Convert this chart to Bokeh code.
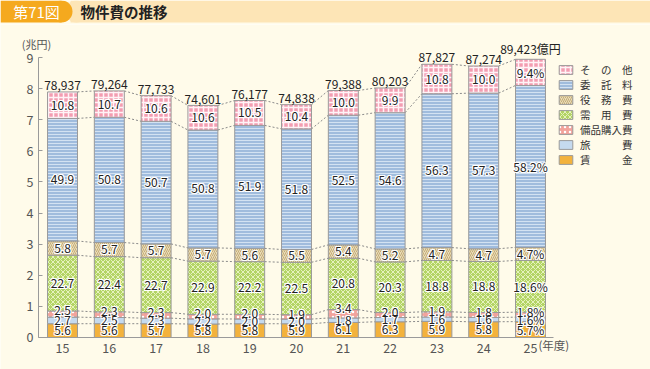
from bokeh.plotting import figure
from bokeh.models import ColumnDataSource, Legend, LegendItem, FixedTicker, Range1d
from bokeh.layouts import column
from bokeh.embed import file_html
from bokeh.resources import INLINE
from bokeh.core.properties import value

# ---------------- data ----------------
years = ["15", "16", "17", "18", "19", "20", "21", "22", "23", "24", "25"]
totals = [78937, 79264, 77733, 74601, 76177, 74838, 79388, 80203, 87827, 87274, 89423]  # 億円
wages = [5.6, 5.6, 5.7, 5.8, 5.8, 5.9, 6.1, 6.3, 5.9, 5.8, 5.7]          # 賃金 %
travel = [2.7, 2.5, 2.3, 2.2, 2.0, 2.0, 1.8, 1.7, 1.6, 1.6, 1.6]         # 旅費 %
equipment = [2.5, 2.3, 2.3, 2.0, 2.0, 1.9, 3.4, 2.0, 1.9, 1.8, 1.8]      # 備品購入費 %
supplies = [22.7, 22.4, 22.7, 22.9, 22.2, 22.5, 20.8, 20.3, 18.8, 18.8, 18.6]  # 需用費 %
services = [5.8, 5.7, 5.7, 5.7, 5.6, 5.5, 5.4, 5.2, 4.7, 4.7, 4.7]       # 役務費 %
contracts = [49.9, 50.8, 50.7, 50.8, 51.9, 51.8, 52.5, 54.6, 56.3, 57.3, 58.2]  # 委託料 %
others = [10.8, 10.7, 10.6, 10.6, 10.5, 10.4, 10.0, 9.9, 10.8, 10.0, 9.4]  # その他 %

series_names = ["賃　　　金", "旅　　　費", "備品購入費", "需　用　費", "役　務　費", "委　託　料", "そ　の　他"]
series_values = [wages, travel, equipment, supplies, services, contracts, others]

y_ticks = [0, 1, 2, 3, 4, 5, 6, 7, 8, 9]

# ---------------- style ----------------
BG = "#FFFBEA"
JP = "Noto Sans CJK JP"
LEG_FONT = "'Liberation Sans', 'Noto Sans CJK JP'"
styles = [
    dict(fill_color="#F3B23C"),
    dict(fill_color="#C5DAEF"),
    dict(fill_color="#F2A39C", hatch_pattern="dot", hatch_color="white", hatch_scale=5, hatch_weight=1.2),
    dict(fill_color="#B3D464", hatch_pattern="diagonal_cross", hatch_color="#E6F2BE", hatch_scale=5, hatch_weight=1),
    dict(fill_color="#EADDB8", hatch_pattern="right_diagonal_line", hatch_color="#C4AC78", hatch_scale=4, hatch_weight=1),
    dict(fill_color="#A0BCDD", hatch_pattern="horizontal_line", hatch_color="#D3E2F2", hatch_scale=3, hatch_weight=1),
    dict(fill_color="#F39DB1", hatch_pattern="cross", hatch_color="#FFF3F6", hatch_scale=5, hatch_weight=1.5),
]
# where a segment's label sits within the segment (0 = bottom, 1 = top)
label_anchor = [0.5, 0.5, 1.1, 0.5, 0.5, 0.5, 0.5]

n = len(years)
xs = list(range(n))
BW = 0.64
X0 = -0.513   # y-axis position
XEND = 10.49  # end of x-axis line

W, H_TITLE, H_MAIN = 650, 24, 345

p = figure(width=W, height=H_MAIN,
           x_range=Range1d(-1.325, 12.564), y_range=Range1d(-1.029, 10.061),
           output_backend="svg", toolbar_location=None,
           min_border=0,
           background_fill_color=BG, border_fill_color=BG, outline_line_color=None)
p.grid.visible = False

bottoms = [0.0] * n
levels = []
renderers = []
label_x, label_y, label_t = [], [], []
for k, (name, vals) in enumerate(zip(series_names, series_values)):
    heights = [totals[i] / 10000 * vals[i] / 100 for i in range(n)]
    tops = [bottoms[i] + heights[i] for i in range(n)]
    src = ColumnDataSource(dict(x=xs, bottom=list(bottoms), top=tops))
    r = p.vbar(x="x", width=BW, bottom="bottom", top="top", source=src,
               line_color="#9A9A9A", line_width=1, **styles[k])
    renderers.append((name, r))
    for i in range(n):
        label_x.append(xs[i])
        label_y.append(bottoms[i] + label_anchor[k] * heights[i])
        label_t.append(f"{vals[i]:.1f}" + ("%" if i == n - 1 else ""))
    levels.append(tops)
    bottoms = tops

# dotted connectors between bars
sx0, sy0, sx1, sy1 = [], [], [], []
for lev in levels:
    for i in range(n - 1):
        sx0.append(xs[i] + BW / 2)
        sy0.append(lev[i])
        sx1.append(xs[i + 1] - BW / 2)
        sy1.append(lev[i + 1])
p.segment(x0=sx0, y0=sy0, x1=sx1, y1=sy1, line_color="#8A8A8A", line_width=1, line_dash="2 2")

# segment labels with a white halo
lab_src = ColumnDataSource(dict(x=label_x, y=label_y, text=label_t))
for dx in (-1, 0, 1):
    for dy in (-1, 0, 1):
        if dx == 0 and dy == 0:
            continue
        p.text(x="x", y="y", text="text", source=lab_src, x_offset=dx, y_offset=dy,
               text_align="center", text_baseline="middle",
               text_font=value(JP), text_font_size="12px", text_color="white")
p.text(x="x", y="y", text="text", source=lab_src, text_align="center", text_baseline="middle",
       text_font=value(JP), text_font_size="12px", text_color="#222222")

# totals
tot_t = [f"{t:,}" + ("億円" if i == n - 1 else "") for i, t in enumerate(totals)]
tot_y = [lev + 0.06 for lev in levels[-1]]
p.text(x=xs, y=tot_y, text=tot_t, text_align="center", text_baseline="bottom",
       text_font=value(JP), text_font_size="12px", text_color="#222222")

# unit texts
p.text(x=[X0], y=[9.42], text=["(兆円)"], text_align="center", text_baseline="middle",
       x_offset=-2, text_font=value(JP), text_font_size="11px", text_color="#555555")
p.text(x=[10.17], y=[-0.24], text=["(年度)"], text_align="left", text_baseline="middle",
       text_font=value(JP), text_font_size="11.5px", text_color="#555555")

# axes (drawn inside the frame at fixed locations)
p.xaxis.fixed_location = 0
p.xaxis.ticker = FixedTicker(ticks=xs)
p.xaxis.major_label_overrides = {i: y for i, y in enumerate(years)}
p.xaxis.bounds = (X0, XEND)
p.xaxis.major_tick_line_color = None
p.xaxis.minor_tick_line_color = None
p.xaxis.axis_line_color = "#9A9A9A"
p.xaxis.major_label_text_font = JP
p.xaxis.major_label_text_font_size = "12.5px"
p.xaxis.major_label_text_color = "#555555"
p.xaxis.major_label_standoff = 0

p.yaxis.fixed_location = X0
p.yaxis.ticker = FixedTicker(ticks=y_ticks)
p.yaxis.bounds = (0, 9)
p.yaxis.major_tick_in = 4
p.yaxis.major_tick_out = 0
p.yaxis.minor_tick_line_color = None
p.yaxis.axis_line_color = "#9A9A9A"
p.yaxis.major_tick_line_color = "#9A9A9A"
p.yaxis.major_label_text_font = JP
p.yaxis.major_label_text_font_size = "12.5px"
p.yaxis.major_label_text_color = "#555555"
p.yaxis.major_label_standoff = 5

legend = Legend(items=[LegendItem(label=nm, renderers=[r]) for nm, r in reversed(renderers)],
                location=(557, 202), orientation="vertical",
                glyph_width=17, glyph_height=11, label_height=11, spacing=0, padding=0, margin=0,
                label_standoff=6, label_text_font=LEG_FONT, label_text_font_size="10.5px",
                label_text_color="#333333", label_text_line_height=1.0,
                background_fill_alpha=0, border_line_color=None)
p.add_layout(legend)

# ---------------- title band ----------------
t = figure(width=W, height=H_TITLE, x_range=Range1d(0, W), y_range=Range1d(0, H_TITLE),
           output_backend="svg", toolbar_location=None, min_border=0,
           x_axis_location=None, y_axis_location=None,
           background_fill_color=BG, border_fill_color=BG, outline_line_color=None)
t.grid.visible = False
t.quad(left=[70], right=[W], bottom=[2], top=[24], fill_color="#FDE5B6", line_color=None)
t.circle(x=[76], y=[13], radius=11, fill_color="#FDE5B6", line_color=None)
t.quad(left=[0], right=[61], bottom=[2], top=[24], fill_color="#F5A91E", line_color=None)
t.circle(x=[61], y=[13], radius=11, fill_color="#F5A91E", line_color=None)
t.text(x=[36], y=[13], text=["第71図"], text_align="center", text_baseline="middle",
       text_font=value(JP), text_font_size="15px", text_color="white")
t.text(x=[80], y=[13], text=["物件費の推移"], text_align="left", text_baseline="middle",
       text_font=value(JP), text_font_size="14.5px", text_font_style="bold", text_color="#222222")

layout = column(t, p, spacing=0)
html = file_html(layout, INLINE)
html = html.replace("<body>", f'<body style="background:{BG};">', 1)
open("out.html", "w").write(html)
